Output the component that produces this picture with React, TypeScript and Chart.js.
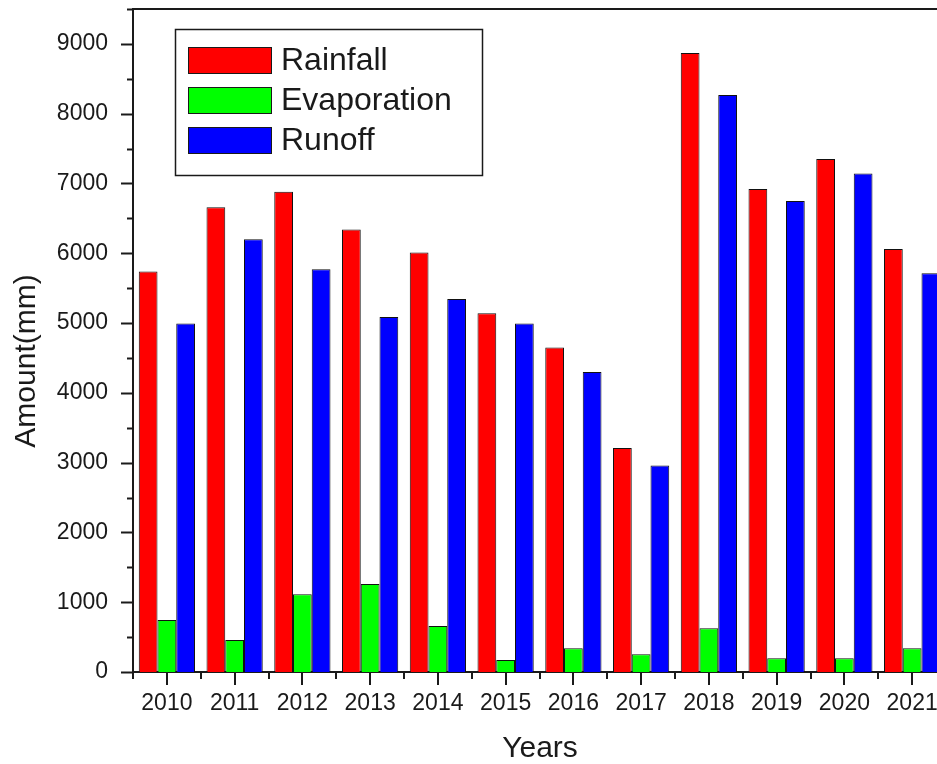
import { useEffect, useRef } from 'react';
import { Chart, registerables } from 'chart.js';

Chart.register(...registerables);

// ---- data ----
const years = ['2010', '2011', '2012', '2013', '2014', '2015', '2016', '2017', '2018', '2019', '2020', '2021'];
const rainfall = [5740, 6660, 6880, 6340, 6010, 5140, 4650, 3210, 8870, 6920, 7350, 6060];
const evaporation = [745, 458, 1115, 1260, 660, 172, 340, 253, 626, 196, 196, 340];
const runoff = [4995, 6200, 5770, 5085, 5344, 4995, 4300, 2960, 8266, 6748, 7144, 5712];
const seriesNames = ['Rainfall', 'Evaporation', 'Runoff'];
const seriesColors = ['#ff0000', '#00ff00', '#0000ff'];
const yMin = 0;
const yMax = 9500;
const yMajorStep = 1000;
const yMinorStep = 500;
const xTitle = 'Years';
const yTitle = 'Amount(mm)';

const FONT = '"Liberation Sans", Arial, sans-serif';
const INK = '#1a1a1a';

export default function App() {
  const ref = useRef<HTMLCanvasElement>(null);

  useEffect(() => {
    const canvas = ref.current;
    if (!canvas) return;

    const decor = {
      id: 'decor',
      afterDraw(chart: any) {
        const { ctx, chartArea: a, scales } = chart;
        const xs = scales.x;
        const ys = scales.y;
        ctx.save();
        ctx.strokeStyle = INK;
        ctx.lineWidth = 2;
        // top frame line
        ctx.beginPath();
        ctx.moveTo(a.left - 1, a.top);
        ctx.lineTo(a.right, a.top);
        ctx.stroke();
        // right frame line
        ctx.beginPath();
        ctx.moveTo(a.right - 1, a.top);
        ctx.lineTo(a.right - 1, a.bottom);
        ctx.stroke();
        // y ticks (outward)
        for (let v = yMin; v <= yMax; v += yMinorStep) {
          const py = Math.round(ys.getPixelForValue(v)) + 0.5;
          const len = v % yMajorStep === 0 ? 12 : 6;
          ctx.beginPath();
          ctx.moveTo(a.left - len, py);
          ctx.lineTo(a.left, py);
          ctx.stroke();
        }
        // x ticks
        for (let i = 0; i < years.length; i++) {
          const px = Math.round(xs.getPixelForValue(i));
          ctx.beginPath();
          ctx.moveTo(px, a.bottom);
          ctx.lineTo(px, a.bottom + 13);
          ctx.stroke();
        }
        for (let i = 0; i <= years.length; i++) {
          const px = Math.round(xs.getPixelForValue(i - 0.5));
          ctx.beginPath();
          ctx.moveTo(px, a.bottom);
          ctx.lineTo(px, a.bottom + 7);
          ctx.stroke();
        }
        // legend
        const lx = a.left + 42;
        const ly = a.top + 20;
        ctx.lineWidth = 1.5;
        ctx.strokeRect(lx + 0.5, ly + 0.5, 307, 146);
        ctx.font = `32px ${FONT}`;
        ctx.textBaseline = 'alphabetic';
        ctx.textAlign = 'left';
        chart.data.datasets.forEach((ds: any, i: number) => {
          const top = ly + 18 + i * 40;
          ctx.fillStyle = ds.backgroundColor;
          ctx.fillRect(lx + 13, top, 84, 27);
          ctx.lineWidth = 1;
          ctx.strokeRect(lx + 13.5, top + 0.5, 83, 26);
          ctx.fillStyle = INK;
          ctx.fillText(ds.label, lx + 106, top + 23);
        });
        // axis titles
        ctx.fillStyle = INK;
        ctx.font = `30px ${FONT}`;
        ctx.textAlign = 'center';
        ctx.textBaseline = 'alphabetic';
        ctx.fillText(xTitle, 540, 757);
        ctx.save();
        ctx.translate(35, 361);
        ctx.rotate(-Math.PI / 2);
        ctx.fillText(yTitle, 0, 0);
        ctx.restore();
        ctx.restore();
      },
    };

    const chart = new Chart(canvas, {
      type: 'bar',
      data: {
        labels: years,
        datasets: [rainfall, evaporation, runoff].map((d, i) => ({
          label: seriesNames[i],
          data: d,
          backgroundColor: seriesColors[i],
          borderColor: '#111',
          borderWidth: 1,
          categoryPercentage: 0.83,
          barPercentage: 1.0,
        })),
      },
      options: {
        animation: false,
        responsive: false,
        devicePixelRatio: 1,
        layout: { padding: { top: 9, left: 0, right: 0, bottom: 0 } },
        plugins: {
          legend: { display: false },
          tooltip: { enabled: false },
        },
        scales: {
          x: {
            type: 'category',
            offset: true,
            grid: { display: false, drawTicks: false },
            border: { display: true, color: INK, width: 2 },
            ticks: {
              font: { family: FONT, size: 23 },
              color: INK,
              padding: 18,
              maxRotation: 0,
              autoSkip: false,
            },
            afterFit: (s: any) => {
              s.height = 92;
              s.paddingLeft = 0;
              s.paddingRight = 0;
              s.paddingTop = 0;
              s.paddingBottom = 0;
            },
          },
          y: {
            type: 'linear',
            min: yMin,
            max: yMax,
            grid: { display: false, drawTicks: false },
            border: { display: true, color: INK, width: 2 },
            ticks: {
              stepSize: yMinorStep,
              autoSkip: false,
              font: { family: FONT, size: 23 },
              color: INK,
              padding: 25,
              callback: (v: any) => (Number(v) % yMajorStep === 0 ? String(v) : ''),
            },
            afterFit: (s: any) => {
              s.width = 133;
              s.paddingLeft = 0;
              s.paddingRight = 0;
              s.paddingTop = 0;
              s.paddingBottom = 0;
            },
          },
        },
      },
      plugins: [decor],
    });

    return () => chart.destroy();
  }, []);

  return (
    <div
      style={{
        position: 'fixed',
        left: 0,
        top: 0,
        width: 937,
        height: 764,
        overflow: 'hidden',
        background: '#fff',
      }}
    >
      <canvas ref={ref} width={946} height={764} style={{ display: 'block', width: 946, height: 764 }} />
    </div>
  );
}
